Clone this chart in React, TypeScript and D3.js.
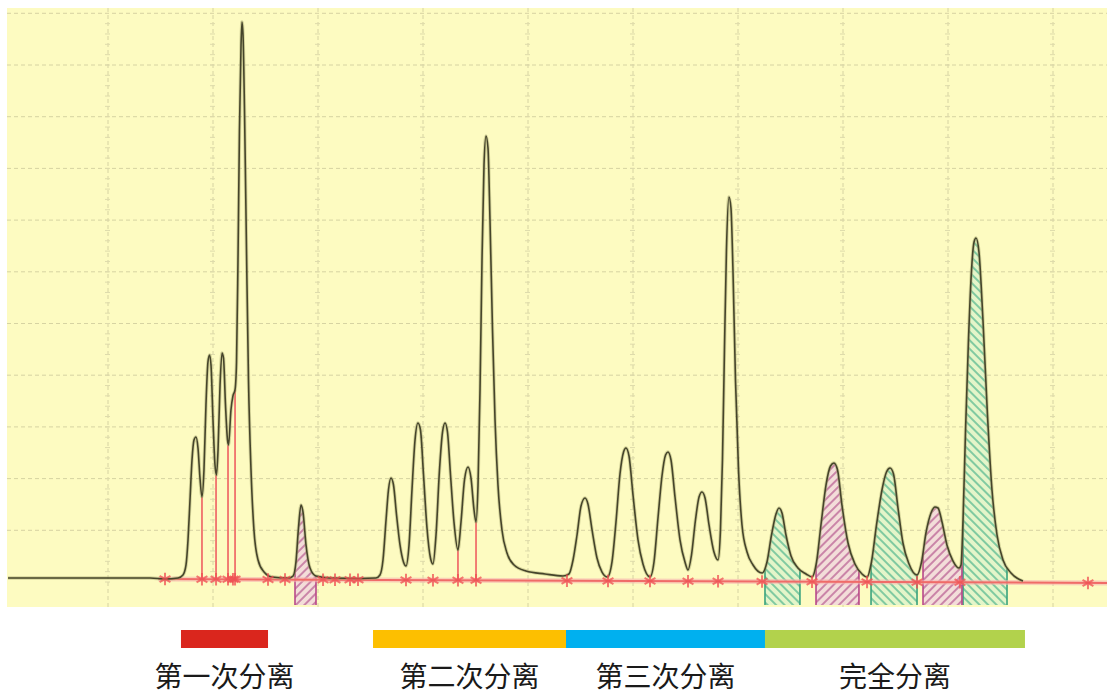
import React, { useRef, useEffect } from "react";
import * as d3 from "d3";

// detector trace: [time (min), signal]
const trace: [number, number][] = [
  [0.048, 0.77], [1.4, 0.77], [1.543, 0.58], [1.667, 0.77], [1.714, 1.35], [1.743, 3.29], [1.762, 8.12],
  [1.781, 15.86], [1.8, 23.6], [1.819, 27.47], [1.838, 28.05], [1.857, 25.92], [1.876, 20.12], [1.895, 16.44],
  [1.914, 21.66], [1.933, 34.24], [1.952, 42.55], [1.967, 43.91], [1.981, 41.97], [2.0, 31.33], [2.019, 22.63],
  [2.033, 20.7], [2.048, 25.53], [2.067, 38.1], [2.086, 44.29], [2.1, 43.33], [2.119, 34.24], [2.138, 27.47],
  [2.148, 26.5], [2.171, 33.27], [2.19, 36.0], [2.21, 37.2], [2.224, 42.5], [2.238, 62.28], [2.252, 87.43],
  [2.267, 103.87], [2.276, 108.32], [2.286, 105.8], [2.3, 91.3], [2.319, 64.22], [2.338, 39.07], [2.362, 21.66],
  [2.39, 10.06], [2.429, 4.26], [2.486, 1.93], [2.562, 0.97], [2.714, 0.77], [2.762, 1.16], [2.79, 3.87],
  [2.814, 10.44], [2.838, 14.89], [2.857, 13.54], [2.886, 7.16], [2.924, 2.71], [2.981, 1.16], [3.114, 0.77],
  [3.4, 0.68], [3.552, 0.77],
  [3.59, 1.35], [3.619, 4.26], [3.648, 11.99], [3.671, 17.8], [3.695, 20.12], [3.719, 18.76], [3.748, 12.96],
  [3.781, 7.16], [3.814, 3.87], [3.838, 3.09], [3.867, 7.16], [3.895, 17.8], [3.924, 27.47], [3.952, 30.75],
  [3.976, 29.4], [4.005, 20.7], [4.038, 10.44], [4.071, 4.64], [4.095, 3.48], [4.124, 9.09], [4.157, 21.66],
  [4.186, 29.01], [4.21, 30.75], [4.233, 29.01], [4.262, 20.7], [4.295, 11.61], [4.333, 6.19], [4.362, 11.61],
  [4.395, 19.73], [4.429, 22.24], [4.457, 20.12], [4.486, 13.93], [4.505, 11.61], [4.524, 18.76], [4.543, 37.14],
  [4.562, 62.28], [4.581, 80.66], [4.6, 86.27], [4.619, 83.95], [4.638, 70.02], [4.662, 48.74], [4.686, 31.33],
  [4.714, 18.76], [4.752, 10.06], [4.8, 5.61], [4.867, 3.29], [4.981, 2.13], [5.162, 1.55], [5.333, 1.16],
  [5.39, 1.55], [5.429, 4.26], [5.467, 9.09], [5.505, 14.7], [5.543, 16.25], [5.571, 15.09], [5.61, 10.06],
  [5.657, 4.64], [5.705, 1.93], [5.757, 0.97], [5.8, 3.87], [5.838, 11.61], [5.876, 20.89], [5.91, 25.15],
  [5.933, 25.92], [5.962, 24.37], [6.0, 16.83], [6.048, 8.12], [6.095, 3.48], [6.162, 0.97], [6.2, 3.87],
  [6.238, 12.38], [6.276, 20.5], [6.31, 24.56], [6.333, 25.15], [6.362, 23.6], [6.4, 16.44], [6.448, 8.12],
  [6.495, 3.87], [6.524, 2.32], [6.557, 5.22], [6.595, 11.99], [6.629, 16.44], [6.657, 17.41], [6.686, 16.25],
  [6.724, 11.03], [6.771, 5.8], [6.81, 4.26], [6.833, 10.06], [6.852, 23.6], [6.871, 44.87], [6.89, 64.22],
  [6.914, 74.47], [6.933, 72.34], [6.952, 60.35], [6.976, 39.07], [7.005, 21.66], [7.038, 11.03], [7.086, 5.8],
  [7.143, 3.29], [7.229, 1.74],
  [7.276, 3.87], [7.319, 9.09], [7.362, 13.15], [7.39, 14.31], [7.419, 13.35], [7.457, 9.09], [7.505, 5.03],
  [7.571, 2.71], [7.648, 1.55], [7.705, 0.97], [7.748, 3.87], [7.79, 11.03], [7.838, 18.76], [7.881, 22.44],
  [7.914, 23.02], [7.948, 21.66], [7.99, 14.89], [8.048, 7.54], [8.114, 3.48], [8.181, 1.55], [8.229, 0.97],
  [8.271, 3.87], [8.319, 11.03], [8.371, 17.8], [8.414, 21.28], [8.448, 22.05], [8.481, 20.89], [8.524, 14.31],
  [8.571, 7.54], [8.629, 3.48], [8.705, 1.35], [8.748, 3.87], [8.79, 9.48], [8.838, 13.35], [8.876, 14.51],
  [8.905, 14.31], [8.943, 11.61], [8.99, 7.16], [9.048, 4.06], [9.105, 2.71], [9.124, 3.29], [9.143, 11.99],
  [9.167, 29.4], [9.195, 46.81], [9.224, 60.35], [9.248, 65.76], [9.267, 66.54], [9.295, 63.83], [9.333, 50.68],
  [9.376, 32.3], [9.419, 17.8], [9.467, 9.09], [9.524, 4.26], [9.6, 1.74], [9.714, 0.19],
];

const gridTimes = [1, 2, 3, 4, 5, 6, 7, 8, 9, 10];
const gridLevels = [10, 20, 30, 40, 50, 60, 70, 80, 90, 100, 110];

// red integration baseline (start and end)
const baselineFrom: [number, number] = [1.48, 0.58];
const baselineTo: [number, number] = [10.52, -0.19];

// drop lines: [time, signal at the valley]
const dropLines: [number, number][] = [
  [1.895, 16.44], [2.029, 20.7], [2.143, 26.5], [2.21, 37.2], [4.333, 6.19], [4.505, 11.61],
];

// peak start/end marks on the baseline
const markerTimes = [
  1.543, 1.895, 2.029, 2.143, 2.19, 2.21, 2.524, 2.686, 3.048, 3.162, 3.305, 3.381, 3.838, 4.095, 4.333,
  4.505, 5.371, 5.762, 6.162, 6.524, 6.81, 7.229, 7.705, 8.229, 8.705, 9.114, 10.333,
];

// integrated (hatched) peaks
const greenZones: [number, number][] = [[7.257, 7.59], [8.267, 8.705], [9.143, 9.562]];
const pinkZones: [number, number][] = [[2.781, 2.981], [7.743, 8.152], [8.762, 9.133]];

// separation stages shown under the trace
const stageNames = ["第一次分离", "第二次分离", "第三次分离", "完全分离"];
const stageStart = [1.695, 3.524, 5.362, 7.257];
const stageEnd = [2.524, 5.362, 7.257, 9.733];
const stageColors = ["#da261d", "#fdbf00", "#00b0ef", "#b2d24c"];

const App = () => {
  const ref = useRef<SVGSVGElement>(null);
  const width = 1107;
  const height = 696;

  useEffect(() => {
    const svg = d3.select(ref.current);
    svg.selectAll("*").remove();

    const plotL = 7, plotT = 8, plotR = width, plotB = 607;
    const x = d3.scaleLinear().domain([0, 10]).range([3, 1053]);
    const y = d3.scaleLinear().domain([0, 100]).range([582, 65]);
    const vBottom = y.invert(plotB - 2);
    const baseAt = d3.scaleLinear().domain([baselineFrom[0], baselineTo[0]]).range([baselineFrom[1], baselineTo[1]]);

    const defs = svg.append("defs");
    defs.append("clipPath").attr("id", "plotClip")
      .append("rect").attr("x", plotL).attr("y", plotT).attr("width", plotR - plotL).attr("height", plotB - plotT);

    const area = d3.area<[number, number]>()
      .x(d => x(d[0]))
      .y0(y(vBottom))
      .y1(d => y(d[1]))
      .curve(d3.curveMonotoneX);
    defs.append("clipPath").attr("id", "underCurve")
      .append("path").attr("d", area(trace));

    const hatch = (id, bg, color, angle) => {
      const p = defs.append("pattern").attr("id", id)
        .attr("patternUnits", "userSpaceOnUse")
        .attr("width", 6).attr("height", 6)
        .attr("patternTransform", `rotate(${angle})`);
      p.append("rect").attr("width", 6).attr("height", 6).attr("fill", bg);
      p.append("line").attr("x1", 1).attr("y1", 0).attr("x2", 1).attr("y2", 6)
        .attr("stroke", color).attr("stroke-width", 1.3);
    };
    hatch("hatchG", "#e4f5c9", "#4bb38c", -45);
    hatch("hatchP", "#f3ddd9", "#b4558e", 45);

    // background
    svg.append("rect").attr("x", plotL).attr("y", plotT)
      .attr("width", plotR - plotL).attr("height", plotB - plotT)
      .attr("fill", "#fdfbc1");

    const plot = svg.append("g").attr("clip-path", "url(#plotClip)");

    // grid
    plot.append("g").selectAll("line").data(gridTimes).join("line")
      .attr("x1", d => x(d)).attr("x2", d => x(d))
      .attr("y1", plotT).attr("y2", plotB)
      .attr("stroke", "#d6d3a2").attr("stroke-width", 1).attr("stroke-dasharray", "4,3");
    plot.append("g").selectAll("line").data(gridLevels).join("line")
      .attr("x1", plotL).attr("x2", plotR)
      .attr("y1", d => y(d)).attr("y2", d => y(d))
      .attr("stroke", "#d6d3a2").attr("stroke-width", 1).attr("stroke-dasharray", "4,3");
    // little ticks along the vertical grid lines
    const minor = d3.range(0, 110, 2);
    gridTimes.forEach(t => {
      plot.append("g").selectAll("line").data(minor).join("line")
        .attr("x1", x(t) - 3).attr("x2", x(t) + 2)
        .attr("y1", d => y(d)).attr("y2", d => y(d))
        .attr("stroke", "#dedbab").attr("stroke-width", 1);
    });

    // hatched integrated peaks
    const zoneG = plot.append("g").attr("clip-path", "url(#underCurve)");
    const drawZones = (zones, fill, edge) => {
      zoneG.append("g").selectAll("rect").data(zones).join("rect")
        .attr("x", d => x(d[0])).attr("width", d => x(d[1]) - x(d[0]))
        .attr("y", plotT).attr("height", plotB - plotT)
        .attr("fill", fill);
      zoneG.append("g").selectAll("line").data(zones.flat()).join("line")
        .attr("x1", d => x(d)).attr("x2", d => x(d))
        .attr("y1", plotT).attr("y2", plotB)
        .attr("stroke", edge).attr("stroke-width", 1.6);
    };
    drawZones(greenZones, "url(#hatchG)", "#3aa37e");
    drawZones(pinkZones, "url(#hatchP)", "#b8488a");

    // red baseline
    plot.append("line")
      .attr("x1", x(baselineFrom[0])).attr("y1", y(baselineFrom[1]))
      .attr("x2", x(baselineTo[0])).attr("y2", y(baselineTo[1]))
      .attr("stroke", "#f7b4b0").attr("stroke-width", 5).attr("stroke-opacity", 0.6);
    plot.append("line")
      .attr("x1", x(baselineFrom[0])).attr("y1", y(baselineFrom[1]))
      .attr("x2", x(baselineTo[0])).attr("y2", y(baselineTo[1]))
      .attr("stroke", "#f06b68").attr("stroke-width", 2);

    // drop lines
    plot.append("g").selectAll("line").data(dropLines).join("line")
      .attr("x1", d => x(d[0])).attr("x2", d => x(d[0]))
      .attr("y1", d => y(baseAt(d[0]))).attr("y2", d => y(d[1]))
      .attr("stroke", "#f0706c").attr("stroke-width", 1.8);

    // trace
    const line = d3.line<[number, number]>()
      .x(d => x(d[0])).y(d => y(d[1]))
      .curve(d3.curveMonotoneX);
    plot.append("path").attr("d", line(trace))
      .attr("fill", "none").attr("stroke", "#a5a36a").attr("stroke-width", 3.4).attr("stroke-opacity", 0.45);
    plot.append("path").attr("d", line(trace))
      .attr("fill", "none").attr("stroke", "#45442a").attr("stroke-width", 1.6);

    // baseline marks
    const sym = d3.symbol(d3.symbolAsterisk, 110);
    plot.append("g").selectAll("path").data(markerTimes).join("path")
      .attr("transform", d => `translate(${x(d)},${y(baseAt(d))})`)
      .attr("d", sym)
      .attr("fill", "none").attr("stroke", "#ef4f52").attr("stroke-width", 2).attr("stroke-opacity", 0.75);

    // stage bars and labels
    const stages = stageNames.map((name, i) => ({ name, s: stageStart[i], e: stageEnd[i], c: stageColors[i] }));
    svg.append("g").selectAll("rect").data(stages).join("rect")
      .attr("x", d => x(d.s)).attr("width", d => x(d.e) - x(d.s))
      .attr("y", 630).attr("height", 18)
      .attr("fill", d => d.c);
    svg.append("g").selectAll("text").data(stages).join("text")
      .attr("x", d => (x(d.s) + x(d.e)) / 2)
      .attr("y", 687)
      .attr("text-anchor", "middle")
      .attr("font-family", "'Noto Sans CJK SC', sans-serif")
      .attr("font-size", 28)
      .attr("fill", "#1a1a1a")
      .text(d => d.name);
  }, []);

  return (
    <svg ref={ref} width={width} height={height}
      style={{ position: "absolute", left: 0, top: 0, background: "#ffffff" }} />
  );
};

export default App;
